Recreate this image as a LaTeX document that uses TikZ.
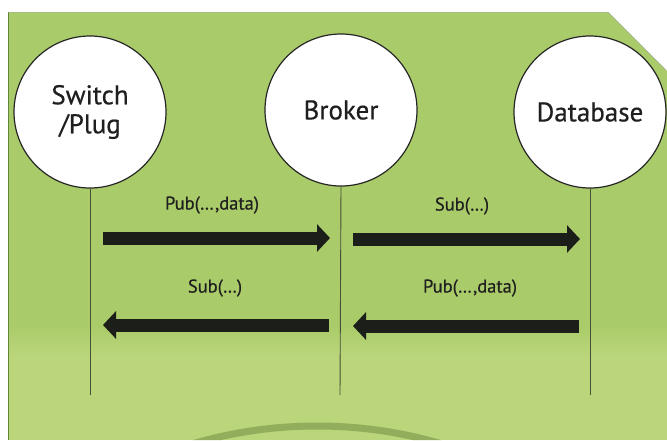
\documentclass[tikz,border=0pt]{standalone}
\usepackage{fontspec}
\setmainfont{PT Sans}
\newfontfamily\diagfont{PT Sans}[FakeBold=0.5]
\usetikzlibrary{arrows.meta}

\definecolor{panelgreen}{RGB}{170,203,105}
\definecolor{panellight}{RGB}{186,213,122}
\definecolor{edgegreen}{RGB}{95,135,55}
\definecolor{ringgreen}{RGB}{146,174,92}
\definecolor{lifegray}{RGB}{70,80,55}
\definecolor{arrowblack}{RGB}{28,30,26}

\tikzset{
  actor/.style={circle, draw=black!85, line width=1.2pt, fill=white,
    minimum size=152pt, inner sep=0pt, align=center,
    font=\diagfont\fontsize{27}{31}\selectfont, text=black!88},
  lifeline/.style={draw=lifegray, line width=0.9pt},
  msg/.style={draw=arrowblack, line width=13pt,
    -{Triangle[length=13pt, width=27pt]}},
  msglabel/.style={font=\diagfont\fontsize{18.5}{22}\selectfont, text=black!88}
}

\begin{document}
\begin{tikzpicture}[x=1pt, y=-1pt]
  % page
  \fill[white] (0,0) rectangle (667,440);
  \useasboundingbox (0,0) rectangle (667,440);

  % green panel with chamfered corner
  \path[clip] (8,12) -- (608,12) -- (667,71) -- (667,440) -- (8,440) -- cycle;
  \fill[panelgreen] (0,0) rectangle (667,440);
  \shade[top color=panelgreen, bottom color=panellight] (0,325) rectangle (667,355);
  \fill[panellight] (0,355) rectangle (667,440);

  % faint ring at the bottom
  \draw[ringgreen, line width=7pt] (317,866) circle[radius=440pt];

  % panel border
  \draw[edgegreen, line width=1.4pt] (8,440) -- (8,12);
  \draw[black!35, line width=0.6pt] (8,12) -- (608,12) -- (667,71);

  % participants
  \node[actor] (sw) at (90,112) {Switch\\[-2pt]/Plug};
  \node[actor] (br) at (341,110) {Broker};
  \node[actor] (db) at (590,112) {Database};

  % lifeline ends
  \coordinate (swend) at (90,395);
  \coordinate (brend) at (340,395);
  \coordinate (dbend) at (590,395);
  \draw[lifeline] (sw.south) -- (swend);
  \draw[lifeline] (br.south) -- (brend);
  \draw[lifeline] (db.south) -- (dbend);

  % message end points
  \coordinate (m1a) at (103,238);
  \coordinate (m1b) at (330,238);
  \coordinate (m2a) at (353,239);
  \coordinate (m2b) at (580,239);
  \coordinate (m3a) at (329,325);
  \coordinate (m3b) at (103,325);
  \coordinate (m4a) at (579,326);
  \coordinate (m4b) at (353,326);

  % messages
  \draw[msg] (m1a) -- (m1b);
  \draw[msg] (m2a) -- (m2b);
  \draw[msg] (m3a) -- (m3b);
  \draw[msg] (m4a) -- (m4b);

  % message labels
  \node[msglabel] (l1) at (212,205) {Pub(…,data)};
  \node[msglabel] (l2) at (462,206) {Sub(…)};
  \node[msglabel] (l3) at (215,288) {Sub(…)};
  \node[msglabel] (l4) at (470,288) {Pub(…,data)};
\end{tikzpicture}
\end{document}
